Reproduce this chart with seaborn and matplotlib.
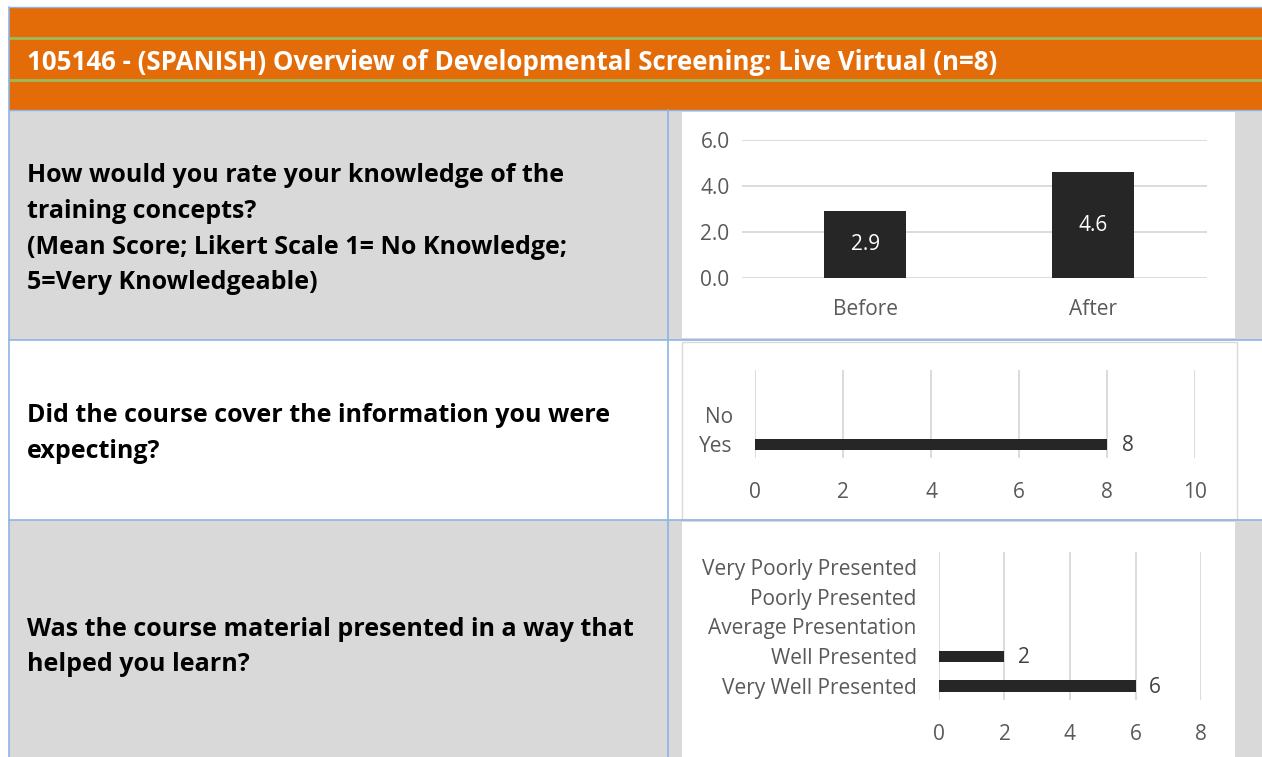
import matplotlib
matplotlib.use("Agg")
import matplotlib.pyplot as plt
import seaborn as sns
import pandas as pd
from matplotlib.patches import Rectangle

sns.set_theme(style="white")
plt.rcParams['font.family'] = ['Open Sans', 'DejaVu Sans']

# ---------------- data ----------------
title = "105146 - (SPANISH) Overview of Developmental Screening: Live Virtual (n=8)"
q1_lines = ["How would you rate your knowledge of the", "training concepts?",
            "(Mean Score; Likert Scale 1= No Knowledge;", "5=Very Knowledgeable)"]
q2_lines = ["Did the course cover the information you were", "expecting?"]
q3_lines = ["Was the course material presented in a way that", "helped you learn?"]

k_cats = ["Before", "After"]
k_vals = [2.9, 4.6]

c_cats = ["No", "Yes"]
c_vals = [0, 8]

p_cats = ["Very Poorly Presented", "Poorly Presented", "Average Presentation",
          "Well Presented", "Very Well Presented"]
p_vals = [0, 0, 0, 2, 6]

# ---------------- layout ----------------
W, H = 1262, 757
DPI = 100
fig = plt.figure(figsize=(W / DPI, H / DPI), dpi=DPI)
fig.patch.set_facecolor("white")

bg = fig.add_axes([0, 0, 1, 1], zorder=0)
bg.set_xlim(0, W)
bg.set_ylim(H, 0)
bg.axis("off")

ORANGE = "#E36C09"
GREEN = "#9BBB59"
GREY = "#D9D9D9"
BLUE = "#8EB4E3"
BAR = "#262626"
TXT = "#595959"

# header
bg.add_patch(Rectangle((9, 7), W - 9, 103, facecolor=ORANGE, edgecolor="none"))
bg.plot([9, W], [38, 38], color=GREEN, lw=2)
bg.plot([9, W], [80, 80], color=GREEN, lw=2)
bg.plot([9, W], [7, 7], color=BLUE, lw=1)
bg.text(27, 63, title, color="white", fontsize=18.6, fontweight="bold", va="center", ha="left")

# rows
bg.add_patch(Rectangle((9, 110), 659, 230, facecolor=GREY, edgecolor="none"))
bg.add_patch(Rectangle((668, 110), W - 668, 230, facecolor=GREY, edgecolor="none"))
bg.add_patch(Rectangle((682, 112), 553, 226, facecolor="white", edgecolor="none"))

bg.add_patch(Rectangle((682, 342), 555, 178, facecolor="white", edgecolor=GREY, lw=1))

bg.add_patch(Rectangle((9, 520), 659, 237, facecolor=GREY, edgecolor="none"))
bg.add_patch(Rectangle((668, 520), W - 668, 237, facecolor=GREY, edgecolor="none"))
bg.add_patch(Rectangle((682, 522), 553, 240, facecolor="white", edgecolor="none"))

# borders
bg.plot([9, 9], [7, H], color=BLUE, lw=1.2)
bg.plot([668, 668], [110, H], color=BLUE, lw=1.2)
bg.plot([9, W], [110, 110], color=BLUE, lw=1)
bg.plot([9, W], [340, 340], color=BLUE, lw=1.2)
bg.plot([9, W], [520, 520], color=BLUE, lw=1.2)

# question text
qfs = 18.0
for i, t in enumerate(q1_lines):
    bg.text(27, 176 + i * 35.5, t, fontsize=qfs, fontweight="bold", color="black", va="center")
for i, t in enumerate(q2_lines):
    bg.text(27, 416 + i * 36, t, fontsize=qfs, fontweight="bold", color="black", va="center")
for i, t in enumerate(q3_lines):
    bg.text(27, 629 + i * 35.5, t, fontsize=qfs, fontweight="bold", color="black", va="center")

TFS = 15.0


def px_axes(x0, x1, ytop, ybot):
    return fig.add_axes([x0 / W, 1 - ybot / H, (x1 - x0) / W, (ybot - ytop) / H], zorder=2)


def clean(ax):
    for s in ax.spines.values():
        s.set_visible(False)
    ax.set_facecolor("none")
    ax.set_xlabel("")
    ax.set_ylabel("")
    ax.tick_params(length=0, colors=TXT, labelsize=TFS)


# ---- chart 1 ----
ax1 = px_axes(742, 1207, 140, 278)
df1 = pd.DataFrame({"cat": k_cats, "val": k_vals})
sns.barplot(data=df1, x="cat", y="val", color=BAR, saturation=1, width=0.36, ax=ax1,
            linewidth=0, zorder=3)
ax1.set_ylim(0, 6)
ax1.set_yticks([0, 2, 4, 6])
ax1.set_yticklabels([f"{v:.1f}" for v in [0, 2, 4, 6]])
ax1.set_xlim(-0.54, 1.5)
for y in [0, 2, 4, 6]:
    ax1.axhline(y, color=GREY, lw=1.3, zorder=1)
clean(ax1)
ax1.tick_params(axis="y", pad=9)
ax1.tick_params(axis="x", pad=15)
for p, v in zip(ax1.patches, k_vals):
    ax1.text(p.get_x() + p.get_width() / 2, v / 2, f"{v:.1f}", color="white",
             ha="center", va="center", fontsize=TFS, zorder=5)

# ---- chart 2 ----
ax2 = px_axes(755, 1195, 370, 458)
df2 = pd.DataFrame({"cat": c_cats, "val": c_vals})
sns.barplot(data=df2, y="cat", x="val", color=BAR, saturation=1, width=0.38, ax=ax2,
            orient="h", linewidth=0, zorder=3)
ax2.set_xlim(0, 10)
ax2.set_ylim(1.48, -1.55)
ax2.set_xticks(range(0, 11, 2))
for x in range(0, 11, 2):
    ax2.axvline(x, color=GREY, lw=1.3, zorder=1)
clean(ax2)
ax2.tick_params(axis="y", pad=16)
ax2.tick_params(axis="x", pad=17)
for i, v in enumerate(c_vals):
    if v > 0:
        ax2.text(v + 0.35, i + 0.05, f"{v}", color="#404040", ha="left", va="center", fontsize=TFS)

# ---- chart 3 ----
ax3 = px_axes(939, 1201, 552, 700)
df3 = pd.DataFrame({"cat": p_cats, "val": p_vals})
sns.barplot(data=df3, y="cat", x="val", color=BAR, saturation=1, width=0.37, ax=ax3,
            orient="h", linewidth=0, zorder=3)
ax3.set_xlim(0, 8)
ax3.set_ylim(4.47, -0.5)
ax3.set_xticks(range(0, 9, 2))
for x in range(0, 9, 2):
    ax3.axvline(x, color=GREY, lw=1.3, zorder=1)
clean(ax3)
ax3.tick_params(axis="y", pad=16)
ax3.tick_params(axis="x", pad=17)
for i, v in enumerate(p_vals):
    if v > 0:
        ax3.text(v + 0.4, i + 0.05, f"{v}", color="#404040", ha="left", va="center", fontsize=TFS)

fig.savefig("out.png", dpi=DPI)
